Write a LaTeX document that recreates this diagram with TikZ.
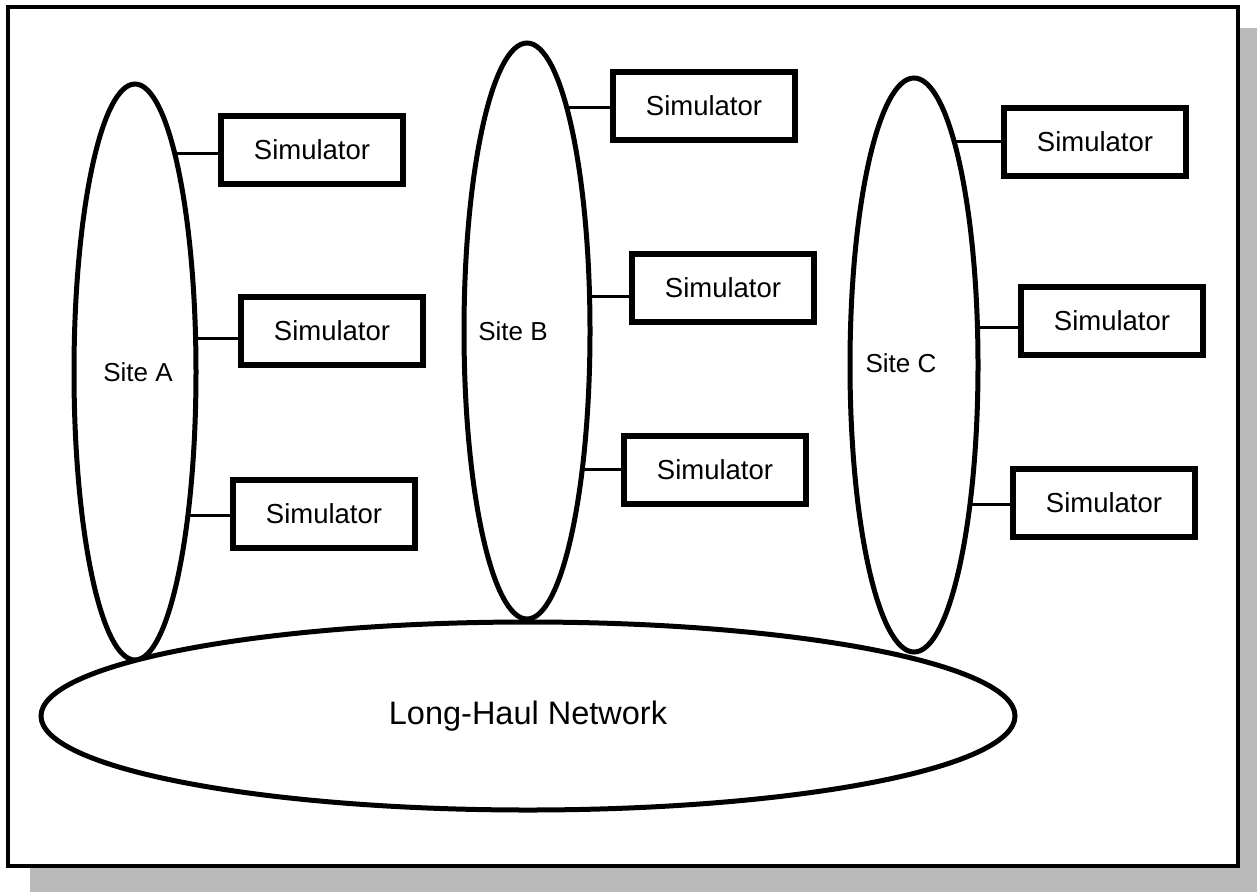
\documentclass[tikz,border=0pt]{standalone}
\usepackage{fontspec}
\setmainfont{Liberation Sans}
\usetikzlibrary{shapes.geometric,patterns}
\begin{document}
\begin{tikzpicture}[x=1pt,y=-1pt,
  sim/.style={draw,line width=5.5pt,minimum width=182pt,minimum height=68pt,inner sep=0pt,font=\fontsize{27.5}{32}\selectfont},
  site/.style={draw,ellipse,line width=5pt,inner sep=0pt,minimum width=122pt,minimum height=576pt},
  conn/.style={line width=3pt},
  lbl/.style={font=\fontsize{26}{30}\selectfont,inner sep=0pt}]
\useasboundingbox (0,0) rectangle (1257,892);
% shadow
\fill[gray!55] (30,866) rectangle (1257,892);
\fill[gray!55] (1238,28) rectangle (1257,892);
% frame
\draw[line width=3.5pt,fill=white] (8,7) rectangle (1238,866);
% sites
\node[site] (siteA) at (135,372) {};
\node[site,minimum width=126pt] (siteB) at (527,331) {};
\node[site,minimum width=128pt,minimum height=574pt] (siteC) at (914,365) {};
\node[lbl] (lA) at (138,372) {Site A};
\node[lbl] (lB) at (513,331) {Site B};
\node[lbl] (lC) at (901,363) {Site C};
% long-haul
\node[draw,ellipse,line width=5pt,inner sep=0pt,minimum width=974pt,minimum height=188pt,fill=white,font=\fontsize{32.5}{38}\selectfont] (net) at (528,716) {Long-Haul Network};
% simulators
\node[sim] (A1) at (312,150) {Simulator};
\node[sim] (A2) at (332,331) {Simulator};
\node[sim] (A3) at (324,514) {Simulator};
\node[sim] (B1) at (704,106) {Simulator};
\node[sim] (B2) at (723,288) {Simulator};
\node[sim] (B3) at (715,470) {Simulator};
\node[sim] (C1) at (1095,142) {Simulator};
\node[sim] (C2) at (1112,321) {Simulator};
\node[sim] (C3) at (1104,503) {Simulator};
% connector start points on the ellipses
\coordinate (a1) at (174,153);
\coordinate (a2) at (195,338);
\coordinate (a3) at (187,515);
\coordinate (b1) at (567,107);
\coordinate (b2) at (590,296);
\coordinate (b3) at (582,469);
\coordinate (c1) at (955,141);
\coordinate (c2) at (978,327);
\coordinate (c3) at (970,504);
\foreach \p/\b in {a1/A1,a2/A2,a3/A3,b1/B1,b2/B2,b3/B3,c1/C1,c2/C2,c3/C3}
  \draw[conn] (\p) -- (\p -| \b.west);
\end{tikzpicture}
\end{document}
